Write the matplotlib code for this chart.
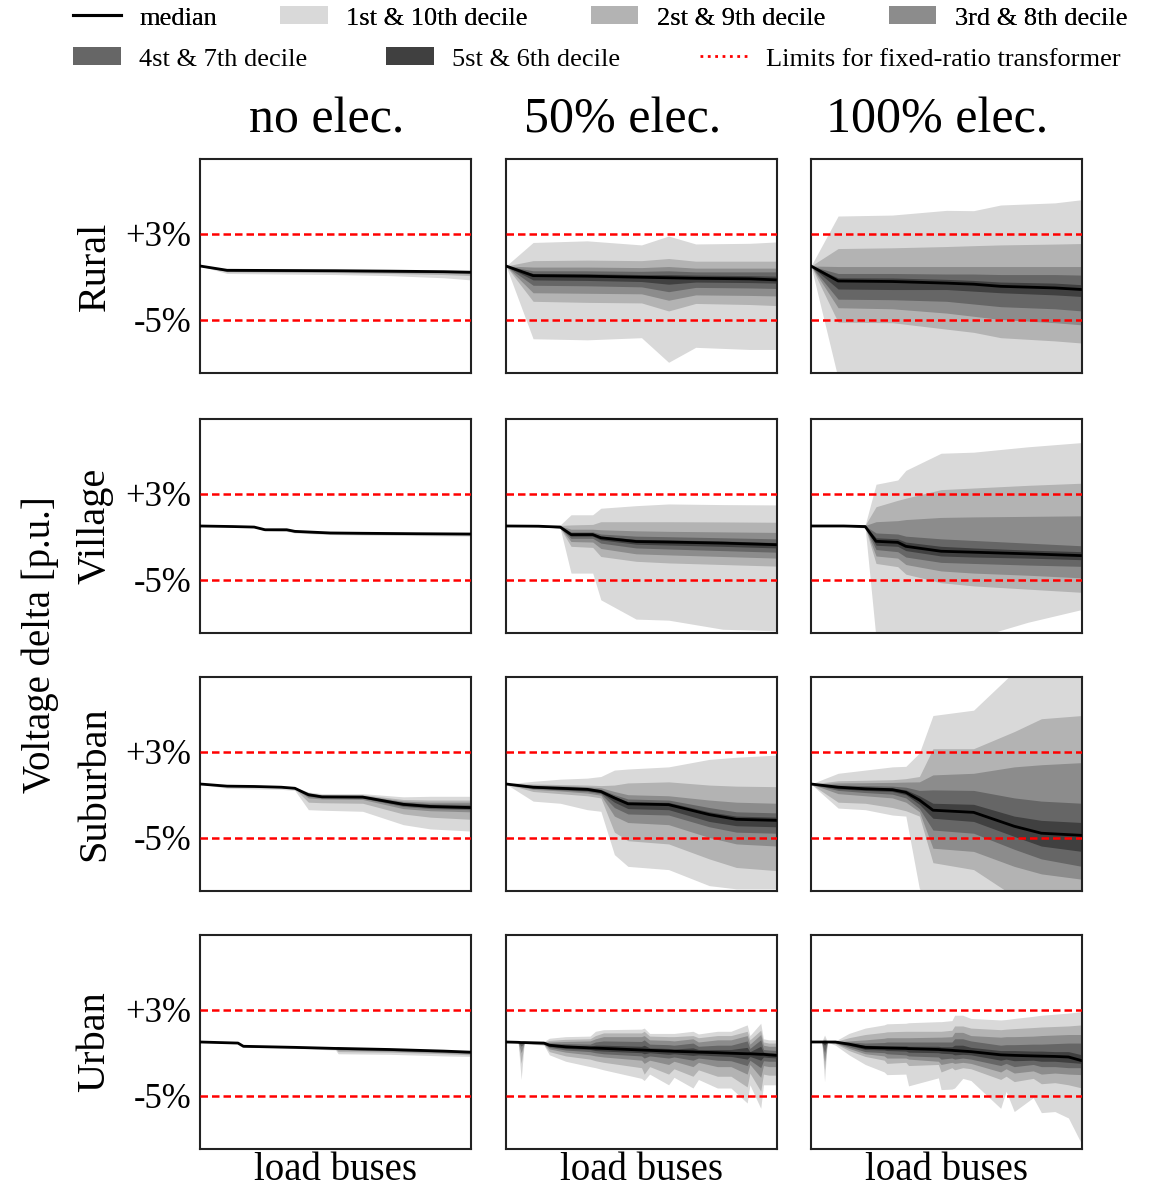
import matplotlib
matplotlib.use('Agg')
import matplotlib.pyplot as plt
from matplotlib.patches import Patch
from matplotlib.lines import Line2D

plt.rcParams['font.family'] = ['Liberation Serif', 'DejaVu Serif']

areas = ['Rural', 'Village', 'Suburban', 'Urban']
scenarios = ['no elec.', '50% elec.', '100% elec.']
limits = [3, -5]                      # voltage limits in %
ytick_labels = ['+3%', '-5%']
band_labels = ['1st & 10th decile', '2st & 9th decile', '3rd & 8th decile',
               '4st & 7th decile', '5st & 6th decile']
band_colors = ['#d9d9d9', '#b3b3b3', '#8c8c8c', '#666666', '#404040']

# every panel: rows are the quantile lines q0, q10, ... q90, q100 (voltage delta in %)
# x = position along the sorted load buses (0..1)

x_rural = [0, 0.1, 0.3, 0.5, 0.6, 0.7, 0.9, 1.0]
rural_none = [
    [0, -0.7, -0.75, -0.8, -0.85, -0.9, -1.1, -1.3],
    [0, -0.55, -0.58, -0.62, -0.66, -0.7, -0.8, -0.9],
    [0, -0.5, -0.52, -0.55, -0.58, -0.6, -0.66, -0.72],
    [0, -0.46, -0.48, -0.5, -0.53, -0.55, -0.6, -0.66],
    [0, -0.43, -0.45, -0.47, -0.5, -0.52, -0.57, -0.62],
    [0, -0.4, -0.42, -0.44, -0.46, -0.48, -0.53, -0.58],
    [0, -0.39, -0.41, -0.43, -0.45, -0.47, -0.52, -0.57],
    [0, -0.38, -0.4, -0.42, -0.44, -0.46, -0.5, -0.55],
    [0, -0.37, -0.39, -0.41, -0.43, -0.45, -0.49, -0.54],
    [0, -0.35, -0.37, -0.39, -0.41, -0.43, -0.47, -0.52],
    [0, -0.33, -0.35, -0.37, -0.39, -0.41, -0.45, -0.5],
]
rural_half = [
    [0, -6.8, -6.9, -6.7, -9.0, -7.6, -7.8, -7.8],
    [0, -3.3, -3.4, -3.45, -4.2, -3.5, -3.6, -3.7],
    [0, -2.5, -2.55, -2.6, -3.2, -2.7, -2.75, -2.8],
    [0, -1.8, -1.85, -1.95, -2.4, -2.0, -2.05, -2.1],
    [0, -1.3, -1.35, -1.45, -1.7, -1.5, -1.55, -1.6],
    [0, -0.9, -0.95, -1.05, -1.1, -1.15, -1.2, -1.3],
    [0, -0.7, -0.72, -0.8, -0.8, -0.85, -0.9, -0.95],
    [0, -0.45, -0.45, -0.5, -0.45, -0.55, -0.55, -0.55],
    [0, -0.1, -0.1, -0.15, -0.05, -0.2, -0.2, -0.2],
    [0, 0.5, 0.55, 0.5, 0.7, 0.45, 0.45, 0.45],
    [0, 2.2, 2.35, 1.97, 2.8, 2.06, 2.12, 2.25],
]
rural_full = [
    [0, -10.5, -10.5, -10.5, -10.5, -10.5, -10.5, -10.5],
    [0, -5.25, -5.3, -5.9, -6.2, -6.7, -7.0, -7.2],
    [0, -3.9, -4.0, -4.4, -4.7, -5.0, -5.3, -5.5],
    [0, -3.1, -3.15, -3.3, -3.55, -3.8, -4.0, -4.2],
    [0, -2.15, -2.2, -2.2, -2.35, -2.5, -2.7, -2.85],
    [0, -1.4, -1.45, -1.6, -1.7, -1.9, -2.05, -2.2],
    [0, -1.1, -1.12, -1.25, -1.35, -1.5, -1.6, -1.75],
    [0, -0.7, -0.7, -0.75, -0.75, -0.8, -0.8, -0.85],
    [0, -0.05, -0.05, -0.05, -0.05, -0.05, -0.05, -0.05],
    [0, 1.63, 1.7, 1.82, 1.9, 1.97, 2.05, 2.1],
    [0, 4.67, 4.76, 5.2, 5.17, 5.7, 5.9, 6.2],
]

x_village = [0, 0.12, 0.2, 0.24, 0.32, 0.35, 0.48, 0.6, 0.8, 1.0]
village_none = [
    [0, -0.08, -0.15, -0.45, -0.5, -0.65, -0.8, -0.85, -0.9, -0.95],
    [0, -0.07, -0.13, -0.42, -0.45, -0.6, -0.75, -0.78, -0.82, -0.86],
    [0, -0.06, -0.12, -0.4, -0.42, -0.56, -0.71, -0.74, -0.78, -0.81],
    [0, -0.06, -0.11, -0.38, -0.39, -0.53, -0.68, -0.71, -0.75, -0.78],
    [0, -0.05, -0.1, -0.36, -0.37, -0.51, -0.66, -0.69, -0.73, -0.76],
    [0, -0.05, -0.1, -0.35, -0.35, -0.5, -0.65, -0.68, -0.72, -0.75],
    [0, -0.05, -0.1, -0.34, -0.34, -0.49, -0.64, -0.67, -0.71, -0.74],
    [0, -0.04, -0.09, -0.33, -0.34, -0.48, -0.63, -0.66, -0.7, -0.73],
    [0, -0.04, -0.09, -0.32, -0.33, -0.47, -0.62, -0.65, -0.69, -0.72],
    [0, -0.03, -0.08, -0.31, -0.33, -0.46, -0.61, -0.64, -0.68, -0.71],
    [0, -0.03, -0.08, -0.3, -0.32, -0.45, -0.6, -0.63, -0.67, -0.7],
]
village_half = [
    [0, -0.07, -0.22, -4.4, -4.4, -6.9, -8.7, -8.8, -9.65, -9.8],
    [0, -0.06, -0.2, -1.9, -2.0, -2.85, -3.3, -3.45, -3.6, -3.75],
    [0, -0.05, -0.18, -1.45, -1.5, -2.1, -2.6, -2.7, -2.85, -3.0],
    [0, -0.04, -0.16, -1.15, -1.15, -1.6, -2.05, -2.15, -2.3, -2.45],
    [0, -0.03, -0.13, -0.95, -0.95, -1.3, -1.7, -1.78, -1.9, -2.05],
    [0, -0.02, -0.1, -0.8, -0.8, -1.1, -1.45, -1.5, -1.6, -1.75],
    [0, -0.01, -0.06, -0.7, -0.7, -0.95, -1.25, -1.3, -1.4, -1.55],
    [0, 0, -0.03, -0.55, -0.55, -0.75, -0.95, -1.0, -1.1, -1.2],
    [0, 0, 0, -0.3, -0.3, -0.35, -0.45, -0.5, -0.55, -0.6],
    [0, 0, 0.05, 0.1, 0.15, 0.4, 0.4, 0.4, 0.38, 0.35],
    [0, 0, 0.1, 1.05, 1.05, 1.66, 1.9, 2.06, 2.0, 1.97],
]
village_full = [
    [0, 0, -0.2, -10.5, -10.5, -10.5, -10.5, -10.5, -9.0, -7.8],
    [0, 0, -0.15, -3.5, -3.8, -4.5, -5.3, -5.6, -5.9, -6.2],
    [0, 0, -0.12, -2.8, -3.0, -3.6, -4.2, -4.4, -4.6, -4.85],
    [0, 0, -0.1, -2.2, -2.4, -2.9, -3.4, -3.5, -3.65, -3.77],
    [0, 0, -0.08, -1.8, -1.9, -2.3, -2.8, -2.9, -3.0, -3.15],
    [0, 0, -0.05, -1.43, -1.53, -1.9, -2.36, -2.45, -2.6, -2.77],
    [0, 0, -0.03, -1.1, -1.2, -1.5, -1.9, -2.05, -2.25, -2.4],
    [0, 0, 0, -0.65, -0.75, -0.95, -1.2, -1.35, -1.6, -1.85],
    [0, 0, 0.05, 0.4, 0.5, 0.6, 0.8, 0.85, 0.9, 0.95],
    [0, 0, 0.08, 1.8, 2.4, 2.6, 3.4, 3.55, 3.8, 4.0],
    [0, 0, 0.1, 3.9, 4.3, 5.2, 6.8, 6.9, 7.4, 7.8],
]

x_suburban = [0, 0.1, 0.2, 0.3, 0.35, 0.4, 0.45, 0.6, 0.75, 0.85, 1.0]
suburban_none = [
    [0, -0.4, -0.45, -0.5, -0.6, -2.4, -2.45, -2.55, -3.8, -4.2, -4.4],
    [0, -0.25, -0.28, -0.35, -0.45, -1.7, -1.75, -1.8, -2.8, -3.1, -3.3],
    [0, -0.22, -0.25, -0.32, -0.42, -1.3, -1.4, -1.45, -2.3, -2.5, -2.6],
    [0, -0.21, -0.24, -0.31, -0.41, -1.15, -1.3, -1.33, -2.1, -2.3, -2.4],
    [0, -0.2, -0.23, -0.3, -0.4, -1.05, -1.25, -1.27, -2.0, -2.2, -2.3],
    [0, -0.2, -0.23, -0.3, -0.4, -1.0, -1.2, -1.22, -1.9, -2.1, -2.2],
    [0, -0.19, -0.22, -0.28, -0.38, -0.95, -1.15, -1.17, -1.8, -2.0, -2.1],
    [0, -0.18, -0.21, -0.27, -0.36, -0.9, -1.1, -1.12, -1.7, -1.85, -1.9],
    [0, -0.17, -0.2, -0.25, -0.35, -0.85, -1.05, -1.07, -1.6, -1.7, -1.7],
    [0, -0.15, -0.18, -0.23, -0.33, -0.8, -1.0, -1.0, -1.45, -1.5, -1.5],
    [0, -0.1, -0.12, -0.18, -0.3, -0.75, -0.9, -0.9, -1.2, -1.15, -1.15],
]
suburban_half = [
    [0, -1.6, -1.8, -2.4, -2.55, -6.6, -7.7, -8.0, -9.5, -9.8, -9.8],
    [0, -0.7, -0.9, -1.1, -1.3, -4.5, -5.3, -5.6, -7.0, -7.8, -8.1],
    [0, -0.5, -0.65, -0.85, -1.05, -3.0, -3.6, -3.8, -5.0, -5.6, -5.8],
    [0, -0.4, -0.55, -0.7, -0.9, -2.2, -2.8, -2.9, -4.0, -4.5, -4.6],
    [0, -0.35, -0.48, -0.6, -0.8, -1.7, -2.3, -2.4, -3.5, -3.9, -4.0],
    [0, -0.3, -0.4, -0.5, -0.7, -1.3, -1.85, -1.93, -2.86, -3.3, -3.4],
    [0, -0.25, -0.32, -0.42, -0.6, -1.15, -1.65, -1.72, -2.6, -3.0, -3.1],
    [0, -0.2, -0.25, -0.35, -0.5, -1.0, -1.4, -1.5, -2.2, -2.6, -2.7],
    [0, -0.1, -0.15, -0.25, -0.35, -0.7, -1.0, -1.1, -1.5, -1.7, -1.8],
    [0, 0, -0.05, -0.1, -0.15, -0.1, 0.1, 0.2, -0.1, -0.2, -0.25],
    [0, 0.25, 0.45, 0.55, 0.7, 1.3, 1.4, 1.6, 2.3, 2.5, 2.7],
]
suburban_full = [
    [0, -2.25, -2.4, -2.9, -3.0, -9.8, -10.5, -10.5, -10.5, -10.5, -10.5],
    [0, -1.7, -1.8, -2.2, -2.5, -3.0, -7.35, -8.0, -10.5, -10.5, -10.5],
    [0, -0.9, -1.1, -1.3, -1.7, -2.6, -6.0, -6.3, -7.7, -8.4, -8.9],
    [0, -0.6, -0.8, -0.95, -1.3, -2.3, -4.3, -4.6, -6.1, -7.0, -7.7],
    [0, -0.45, -0.6, -0.7, -1.0, -1.9, -3.2, -3.5, -4.9, -5.8, -6.3],
    [0, -0.3, -0.45, -0.53, -0.78, -1.5, -2.45, -2.65, -3.95, -4.6, -4.8],
    [0, -0.2, -0.3, -0.38, -0.55, -1.1, -1.8, -1.9, -3.0, -3.4, -3.6],
    [0, -0.1, -0.15, -0.2, -0.3, -0.6, -0.55, -0.6, -1.3, -1.6, -1.8],
    [0, 0.1, 0.12, 0.15, 0.18, 0.2, 0.85, 1.0, 1.6, 1.8, 2.0],
    [0, 0.3, 0.35, 0.4, 0.5, 0.7, 3.3, 3.3, 4.9, 6.1, 6.4],
    [0, 1.0, 1.3, 1.6, 1.65, 2.9, 6.4, 6.9, 10.5, 10.5, 10.5],
]

x_urban_none = [0, 0.14, 0.16, 0.35, 0.5, 0.51, 0.7, 0.9, 1.0]
urban_none = [
    [0, -0.12, -0.5, -0.6, -0.75, -1.1, -1.15, -1.3, -1.35],
    [0, -0.11, -0.45, -0.56, -0.68, -0.9, -0.95, -1.1, -1.2],
    [0, -0.11, -0.43, -0.54, -0.65, -0.75, -0.85, -1.0, -1.1],
    [0, -0.1, -0.42, -0.52, -0.63, -0.68, -0.78, -0.93, -1.02],
    [0, -0.1, -0.41, -0.51, -0.61, -0.63, -0.73, -0.88, -0.98],
    [0, -0.1, -0.4, -0.5, -0.6, -0.6, -0.7, -0.85, -0.95],
    [0, -0.1, -0.39, -0.49, -0.59, -0.59, -0.69, -0.84, -0.94],
    [0, -0.09, -0.38, -0.48, -0.58, -0.58, -0.68, -0.83, -0.93],
    [0, -0.09, -0.37, -0.47, -0.57, -0.57, -0.67, -0.82, -0.92],
    [0, -0.08, -0.36, -0.46, -0.56, -0.56, -0.66, -0.8, -0.9],
    [0, -0.07, -0.34, -0.44, -0.54, -0.54, -0.64, -0.78, -0.88],
]

x_urban_half = [0, 0.045, 0.056, 0.067, 0.14, 0.16, 0.22, 0.31, 0.33, 0.36, 0.5, 0.51, 0.53,
                0.6, 0.62, 0.69, 0.71, 0.78, 0.83, 0.89, 0.9, 0.94, 0.95, 0.97, 1.0]
urban_half = [
    [0, -0.08, -3.5, -0.15, -0.3, -1.2, -1.8, -2.3, -2.4, -2.6, -3.4, -3.6, -3.0,
     -4.0, -3.3, -4.3, -3.5, -4.3, -4.3, -5.7, -4.0, -6.2, -4.0, -4.0, -4.0],
    [0, -0.07, -2.0, -0.13, -0.25, -0.9, -1.3, -1.6, -1.75, -1.9, -2.4, -3.0, -2.3,
     -3.0, -2.5, -3.2, -2.6, -3.2, -3.2, -4.2, -2.9, -4.6, -3.0, -3.1, -3.1],
    [0, -0.06, -1.0, -0.11, -0.2, -0.65, -0.95, -1.2, -1.3, -1.4, -1.7, -2.0, -1.7,
     -2.1, -1.8, -2.3, -1.9, -2.3, -2.3, -3.0, -2.1, -3.3, -2.2, -2.3, -2.3],
    [0, -0.05, -0.4, -0.09, -0.16, -0.5, -0.75, -0.9, -1.0, -1.1, -1.3, -1.5, -1.3,
     -1.5, -1.4, -1.7, -1.5, -1.7, -1.75, -2.2, -1.7, -2.4, -1.75, -1.8, -1.8],
    [0, -0.04, -0.1, -0.07, -0.13, -0.4, -0.6, -0.7, -0.8, -0.85, -1.0, -1.1, -1.0,
     -1.15, -1.1, -1.25, -1.2, -1.3, -1.35, -1.6, -1.35, -1.7, -1.4, -1.45, -1.5],
    [0, -0.03, -0.05, -0.05, -0.1, -0.3, -0.45, -0.55, -0.57, -0.6, -0.75, -0.76, -0.78,
     -0.85, -0.87, -0.92, -0.95, -1.0, -1.05, -1.1, -1.1, -1.15, -1.15, -1.2, -1.25],
    [0, -0.02, -0.03, -0.03, -0.07, -0.2, -0.3, -0.4, -0.3, -0.3, -0.4, -0.3, -0.55,
     -0.6, -0.65, -0.55, -0.7, -0.7, -0.7, -0.5, -0.9, -0.4, -0.95, -1.0, -1.05],
    [0, -0.01, -0.02, -0.02, -0.05, -0.1, -0.15, -0.2, 0.0, 0.1, 0.05, 0.2, -0.2,
     -0.25, -0.3, -0.1, -0.4, -0.3, -0.3, 0.1, -0.6, 0.2, -0.7, -0.75, -0.8],
    [0, 0, 0, 0, -0.02, 0.0, 0.05, 0.1, 0.3, 0.5, 0.5, 0.6, 0.2,
     0.15, 0.1, 0.3, 0.0, 0.2, 0.2, 0.6, -0.2, 0.7, -0.3, -0.4, -0.4],
    [0, 0, 0, 0, 0, 0.15, 0.25, 0.3, 0.6, 0.85, 0.85, 1.0, 0.55,
     0.5, 0.5, 0.6, 0.4, 0.6, 0.6, 1.0, 0.2, 1.1, 0.0, -0.1, -0.1],
    [0, 0, 0, 0, 0.05, 0.35, 0.5, 0.55, 1.0, 1.15, 1.2, 1.3, 0.8,
     0.8, 0.8, 1.0, 0.75, 1.0, 1.0, 1.6, 0.6, 1.75, 0.3, 0.2, 0.2],
]

x_urban_full = [0, 0.04, 0.05, 0.06, 0.09, 0.14, 0.2, 0.27, 0.28, 0.35, 0.36, 0.47, 0.48,
                0.52, 0.53, 0.56, 0.59, 0.7, 0.72, 0.75, 0.82, 0.85, 0.9, 0.95, 1.0]
urban_full = [
    [0, 0, -3.7, 0, -0.3, -1.2, -2.1, -2.8, -3.05, -3.0, -4.1, -3.35, -4.45,
     -4.4, -4.3, -3.4, -3.6, -6.2, -4.6, -6.5, -5.2, -6.6, -6.5, -7.1, -9.6],
    [0, 0, -2.6, 0, -0.15, -0.8, -1.35, -1.7, -2.0, -1.9, -2.2, -2.1, -2.8,
     -2.4, -2.6, -2.4, -2.5, -3.5, -3.2, -3.7, -3.4, -3.9, -3.8, -4.0, -4.3],
    [0, 0, -1.8, 0, -0.1, -0.6, -1.1, -1.3, -1.5, -1.5, -1.6, -1.8, -2.1,
     -1.9, -2.0, -1.9, -2.0, -2.8, -2.5, -2.9, -2.7, -3.0, -2.9, -3.0, -3.05],
    [0, 0, -1.0, 0, -0.05, -0.45, -0.9, -1.0, -1.1, -1.2, -1.3, -1.4, -1.6,
     -1.5, -1.6, -1.5, -1.6, -2.2, -2.0, -2.3, -2.1, -2.3, -2.3, -2.4, -2.4],
    [0, 0, -0.3, 0, 0, -0.3, -0.7, -0.75, -0.8, -0.85, -0.95, -1.0, -1.05,
     -1.1, -1.2, -1.15, -1.2, -1.7, -1.6, -1.75, -1.7, -1.8, -1.8, -1.9, -2.0],
    [0, 0, 0, 0, 0, -0.2, -0.5, -0.55, -0.56, -0.6, -0.62, -0.7, -0.72,
     -0.78, -0.8, -0.85, -0.9, -1.2, -1.22, -1.25, -1.3, -1.32, -1.35, -1.4, -1.75],
    [0, 0, 0.02, 0, 0, -0.1, -0.3, -0.35, -0.35, -0.35, -0.4, -0.4, -0.45,
     -0.45, -0.3, -0.3, -0.5, -0.8, -0.8, -0.8, -0.85, -0.85, -0.9, -0.9, -1.2],
    [0, 0, 0.05, 0, 0.01, 0, -0.1, -0.05, 0, 0, 0, 0, 0,
     0.0, 0.3, 0.3, 0.1, -0.3, -0.25, -0.25, -0.2, -0.2, -0.15, -0.1, -0.1],
    [0, 0, 0.1, 0, 0.02, 0.1, 0.2, 0.35, 0.4, 0.4, 0.4, 0.45, 0.45,
     0.5, 0.9, 0.9, 0.6, 0.45, 0.5, 0.5, 0.55, 0.6, 0.65, 0.7, 0.7],
    [0, 0, 0.3, 0, 0.05, 0.4, 0.7, 0.9, 0.95, 1.0, 1.0, 1.0, 1.0,
     1.1, 1.5, 1.5, 1.3, 1.15, 1.2, 1.25, 1.35, 1.4, 1.45, 1.5, 1.6],
    [0, 0.05, 0.65, 0.05, 0.1, 0.8, 1.3, 1.6, 1.7, 1.75, 1.8, 1.9, 1.9,
     2.0, 2.5, 2.5, 2.2, 2.06, 2.1, 2.2, 2.4, 2.5, 2.6, 2.7, 2.85],
]

panels = [
    [(x_rural, rural_none), (x_rural, rural_half), (x_rural, rural_full)],
    [(x_village, village_none), (x_village, village_half), (x_village, village_full)],
    [(x_suburban, suburban_none), (x_suburban, suburban_half), (x_suburban, suburban_full)],
    [(x_urban_none, urban_none), (x_urban_half, urban_half), (x_urban_full, urban_full)],
]

W, H = 1158, 1192
fig = plt.figure(figsize=(W / 100, H / 100), dpi=100)

col_left = [200, 506, 811]
row_top = [159, 419, 677, 935]
pw, ph = 271, 214

for r, area in enumerate(areas):
    for c in range(3):
        ax = fig.add_axes([col_left[c] / W, 1 - (row_top[r] + ph) / H, pw / W, ph / H])
        x, q = panels[r][c]
        # nested bands, outermost first
        for i, col in enumerate(band_colors):
            ax.fill_between(x, q[i], q[10 - i], color=col, lw=0)
        ax.plot(x, q[5], color='black', lw=2.0, zorder=3)
        for lim in limits:
            ax.axhline(lim, color='red', lw=1.8, dashes=(3, 1.6), zorder=4)
        ax.set_xlim(0, 1)
        ax.set_ylim(-10, 10)
        ax.set_xticks([])
        for s in ax.spines.values():
            s.set_linewidth(1.5)
            s.set_color('#222222')
        if c == 0:
            ax.set_yticks(limits)
            ax.set_yticklabels(ytick_labels, fontsize=25)
            ax.tick_params(axis='y', length=0, pad=6)
            fig.text(95 / W, 1 - (row_top[r] + ph / 2) / H, area, rotation=90,
                     fontsize=29, ha='center', va='center')
        else:
            ax.set_yticks([])
        if r == 3:
            fig.text((col_left[c] + pw / 2) / W, 1 - 1170 / H, 'load buses',
                     fontsize=28, ha='center', va='center')

title_x = [327, 623, 937]
for c, s in enumerate(scenarios):
    fig.text(title_x[c] / W, 1 - 120 / H, s, fontsize=36, ha='center', va='center')

fig.text(40 / W, 1 - 645 / H, 'Voltage delta [p.u.]', rotation=90, fontsize=28,
         ha='center', va='center')

# legend in two rows
median_h = Line2D([], [], color='black', lw=2.2)
band_h = [Patch(facecolor=col, edgecolor='none') for col in band_colors]
limit_h = Line2D([], [], color='red', lw=2, linestyle=':')

leg_kw = dict(frameon=False, fontsize=19, handlelength=1.8, handleheight=0.65,
              handletextpad=0.7, borderpad=0, borderaxespad=0, loc='center left')
leg1 = fig.legend([median_h] + band_h[:3], ['median'] + band_labels[:3], ncol=4,
                  columnspacing=2.4, bbox_to_anchor=(73 / W, 1 - 18 / H), **leg_kw)
fig.add_artist(leg1)
fig.legend(band_h[3:] + [limit_h], band_labels[3:] + ['Limits for fixed-ratio transformer'],
           ncol=3, columnspacing=3.0, bbox_to_anchor=(73 / W, 1 - 59 / H), **leg_kw)

fig.savefig('out.png', dpi=100)
